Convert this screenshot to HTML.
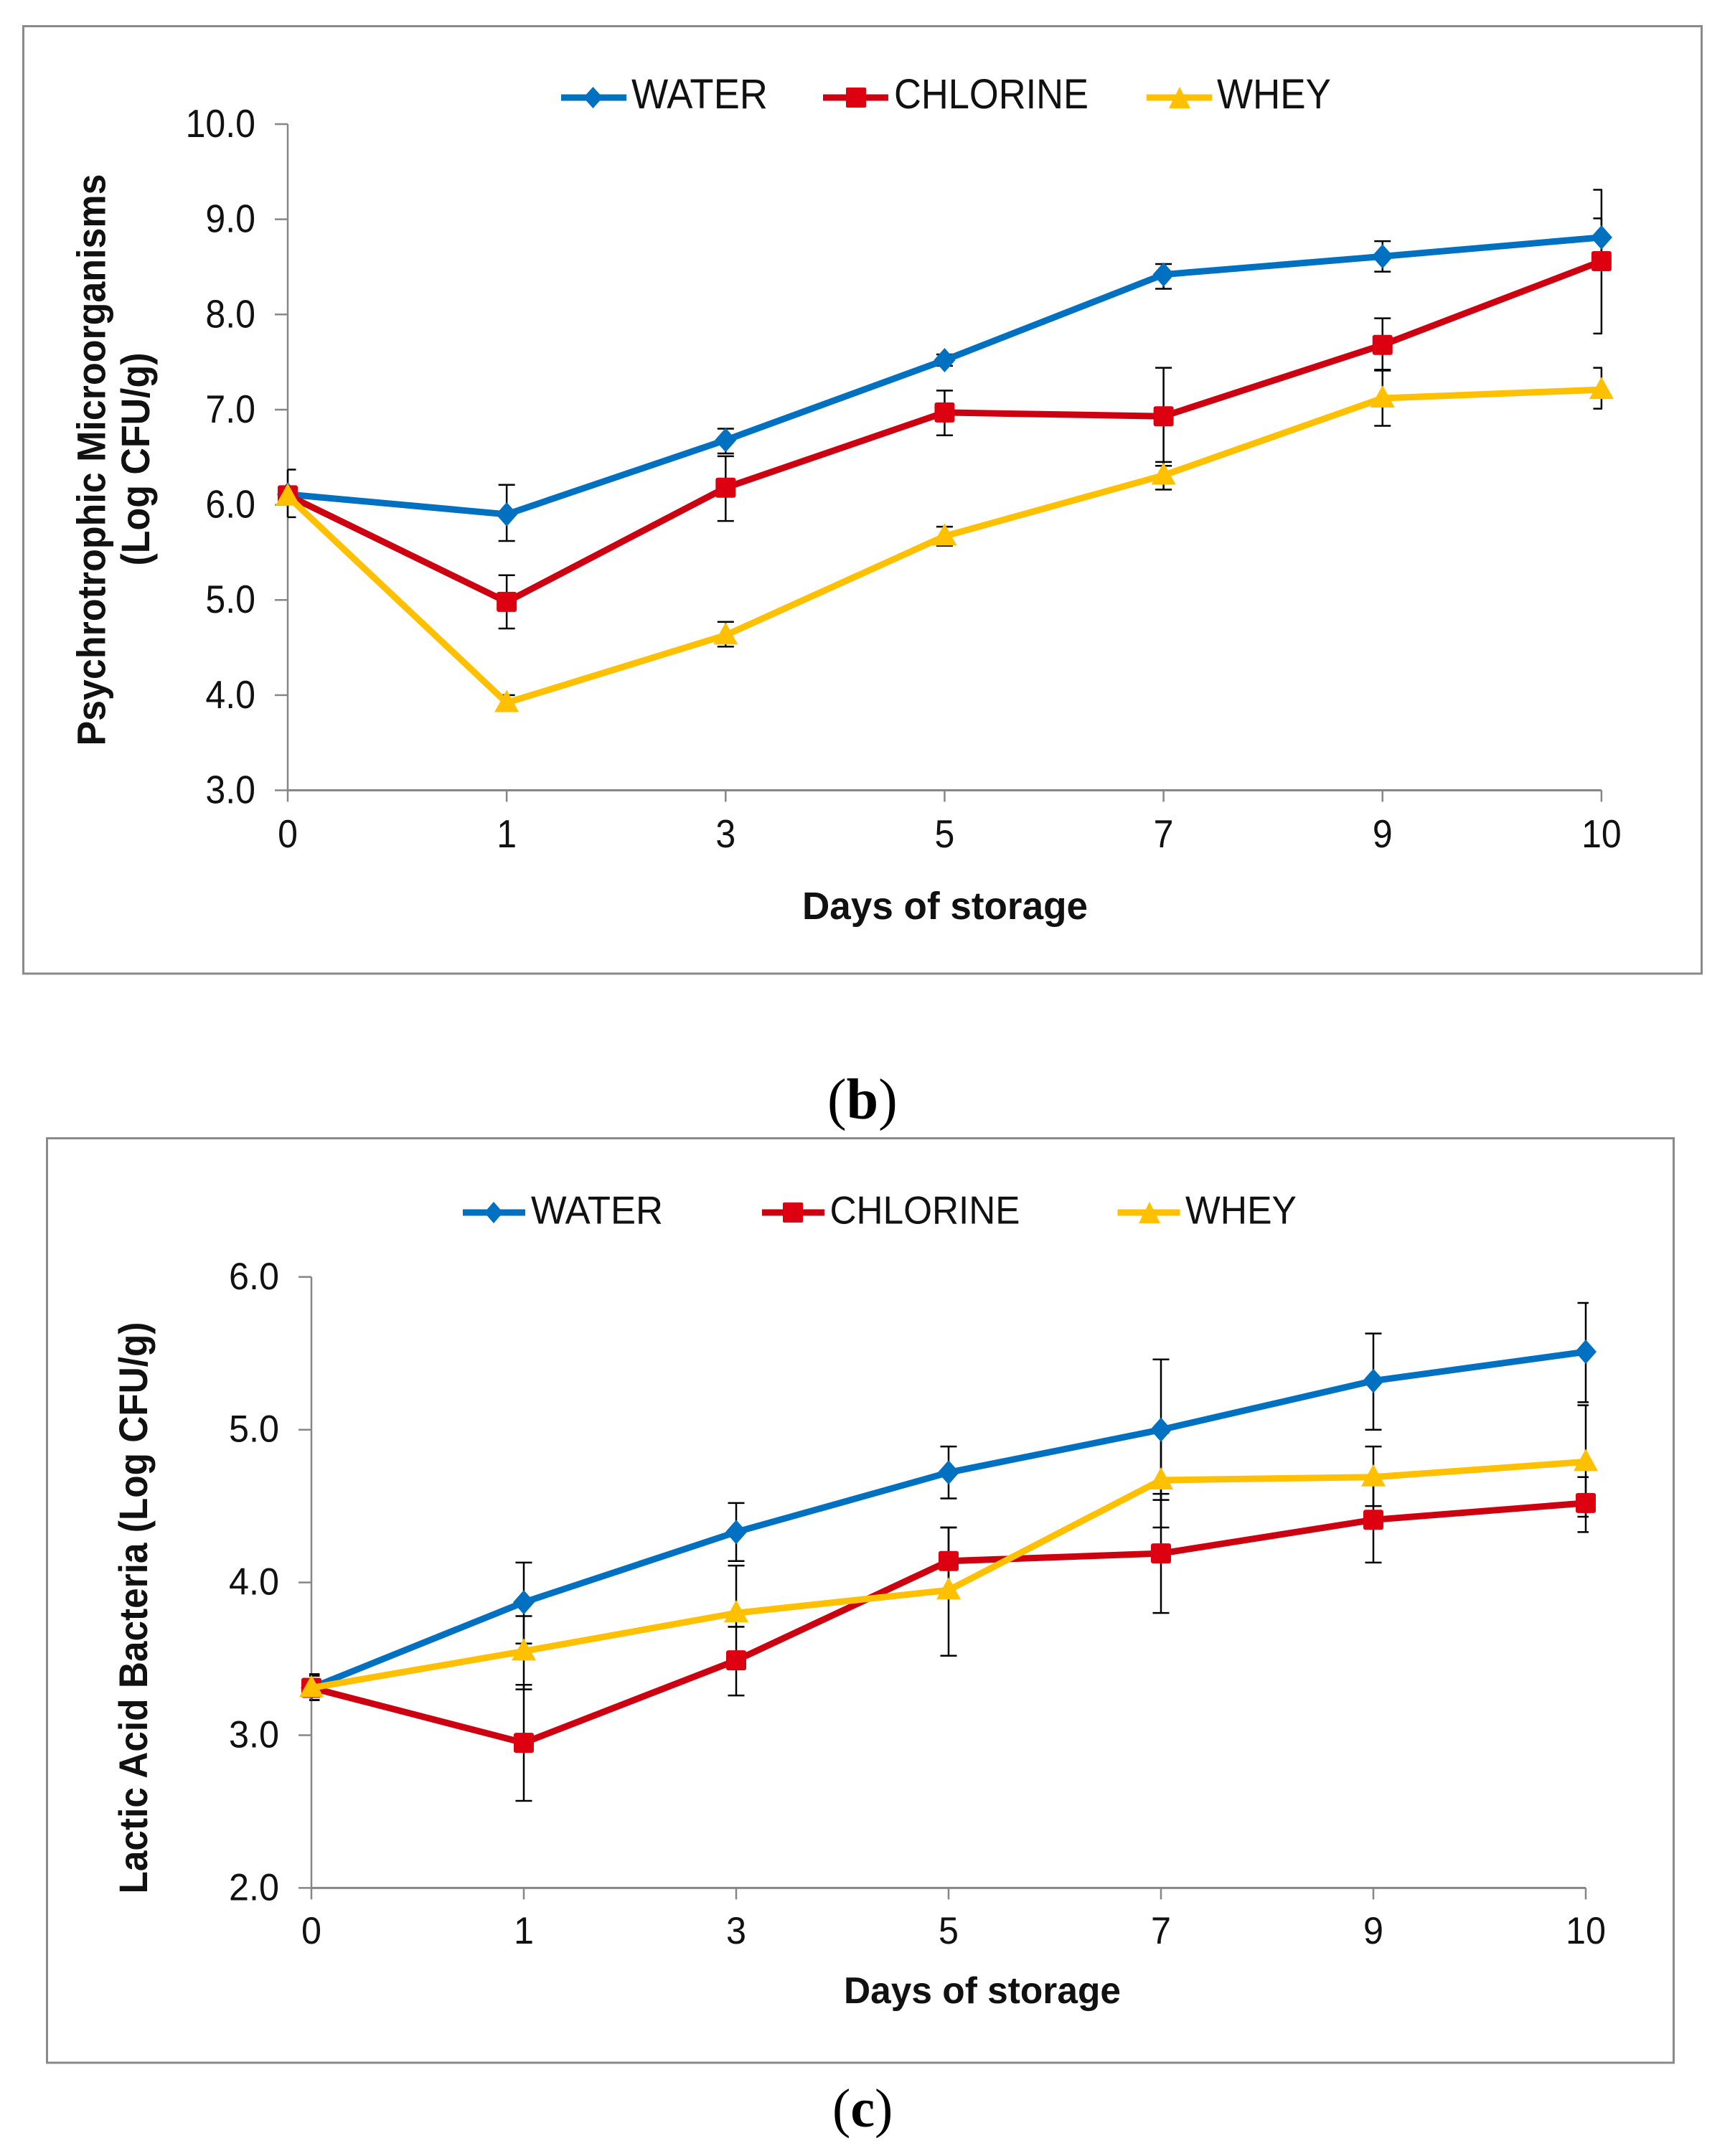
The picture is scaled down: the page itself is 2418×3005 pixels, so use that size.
<!DOCTYPE html>
<html lang="en">
<head>
<meta charset="utf-8">
<title>Psychrotrophic Microorganisms and Lactic Acid Bacteria during storage</title>
<style>
  html, body { margin: 0; padding: 0; background: #fff; }
  svg { display: block; }
  text { font-family: "Liberation Sans", Arial, sans-serif; fill: #111; }
  .cap { font-family: "Liberation Serif", "Times New Roman", serif; font-size: 80px; fill: #000; }
</style>
</head>
<body>
<svg id="figure" xmlns="http://www.w3.org/2000/svg" width="2418" height="3005" viewBox="0 0 2418 3005">
  <rect x="0" y="0" width="2418" height="3005" fill="#fff"/>

  <g id="panel-b">
    <rect x="32.5" y="36.5" width="2339" height="1320.5" fill="#fff" stroke="#8a8a8a" stroke-width="3"/>
    <g>
      <g>
        <line x1="782" y1="136" x2="873" y2="136" stroke="#0070c0" stroke-width="9"/>
        <polygon points="826.5,121 840,136 826.5,151 813,136" fill="#0070c0"/>
        <text x="880" y="151" font-size="58" textLength="190" lengthAdjust="spacingAndGlyphs">WATER</text>
      </g>
      <g>
        <line x1="1147" y1="136" x2="1238" y2="136" stroke="#cc0011" stroke-width="9"/>
        <rect x="1179" y="122" width="28" height="28" rx="2" fill="#dd0011"/>
        <text x="1246" y="151" font-size="58" textLength="271" lengthAdjust="spacingAndGlyphs">CHLORINE</text>
      </g>
      <g>
        <line x1="1598" y1="136" x2="1689" y2="136" stroke="#ffc000" stroke-width="9"/>
        <polygon points="1644,121 1659,151 1629,151" fill="#ffc000"/>
        <text x="1696" y="151" font-size="58" textLength="159" lengthAdjust="spacingAndGlyphs">WHEY</text>
      </g>
    </g>
    <text transform="translate(146.5,641) rotate(-90)" text-anchor="middle" font-size="56" font-weight="bold" textLength="797" lengthAdjust="spacingAndGlyphs">Psychrotrophic Microorganisms</text>
    <text transform="translate(208,640) rotate(-90)" text-anchor="middle" font-size="56" font-weight="bold" textLength="297" lengthAdjust="spacingAndGlyphs">(Log CFU/g)</text>
    <text x="1118" y="1281" font-size="54" font-weight="bold" textLength="398" lengthAdjust="spacingAndGlyphs">Days of storage</text>
  </g>

  <text class="cap" x="1153" y="1559">(<tspan font-weight="bold">b</tspan>)</text>

  <g id="panel-c">
    <rect x="65.5" y="1586.5" width="2267" height="1288.5" fill="#fff" stroke="#8a8a8a" stroke-width="3"/>
    <g>
      <g>
        <line x1="645" y1="1690" x2="732" y2="1690" stroke="#0070c0" stroke-width="9"/>
        <polygon points="688,1675 701,1690 688,1705 675,1690" fill="#0070c0"/>
        <text x="740" y="1705.5" font-size="55" textLength="184" lengthAdjust="spacingAndGlyphs">WATER</text>
      </g>
      <g>
        <line x1="1062" y1="1690" x2="1149" y2="1690" stroke="#cc0011" stroke-width="9"/>
        <rect x="1091" y="1676" width="28" height="28" rx="2" fill="#dd0011"/>
        <text x="1156.5" y="1705.5" font-size="55" textLength="265" lengthAdjust="spacingAndGlyphs">CHLORINE</text>
      </g>
      <g>
        <line x1="1557.5" y1="1690" x2="1644.5" y2="1690" stroke="#ffc000" stroke-width="9"/>
        <polygon points="1602,1675 1617,1705 1587,1705" fill="#ffc000"/>
        <text x="1652" y="1705.5" font-size="55" textLength="155" lengthAdjust="spacingAndGlyphs">WHEY</text>
      </g>
    </g>
    <text transform="translate(205,2241) rotate(-90)" text-anchor="middle" font-size="56" font-weight="bold" textLength="797" lengthAdjust="spacingAndGlyphs">Lactic Acid Bacteria (Log CFU/g)</text>
    <text x="1176" y="2792" font-size="52" font-weight="bold" textLength="386" lengthAdjust="spacingAndGlyphs">Days of storage</text>
  </g>

  <text class="cap" x="1160" y="2964" style="font-size:76px">(<tspan font-weight="bold">c</tspan>)</text>
</svg>

<script>
// Shared categories
const days = ['0', '1', '3', '5', '7', '9', '10'];

// Panel (b) Psychrotrophic Microorganisms
const bTickLabels = ['3.0', '4.0', '5.0', '6.0', '7.0', '8.0', '9.0', '10.0'];
const bWater = [6.11, 5.90, 6.68, 7.52, 8.42, 8.61, 8.81];
const bWaterHigh = [6.37, 6.21, 6.80, 7.58, 8.53, 8.77, 9.01];
const bWaterLow = [5.87, 5.62, 6.54, 7.46, 8.27, 8.45, 8.61];
const bChlorine = [6.10, 4.98, 6.18, 6.97, 6.93, 7.68, 8.56];
const bChlorineHigh = [6.18, 5.26, 6.51, 7.20, 7.44, 7.96, 9.31];
const bChlorineLow = [6.02, 4.70, 5.83, 6.73, 6.41, 7.42, 7.80];
const bWhey = [6.09, 3.92, 4.63, 5.67, 6.31, 7.12, 7.21];
const bWheyHigh = [6.17, 4.00, 4.77, 5.77, 6.45, 7.41, 7.44];
const bWheyLow = [6.01, 3.84, 4.51, 5.57, 6.16, 6.83, 7.01];

// Panel (c) Lactic Acid Bacteria
const cTickLabels = ['2.0', '3.0', '4.0', '5.0', '6.0'];
const cWater = [3.31, 3.87, 4.33, 4.72, 5.00, 5.32, 5.51];
const cWaterHigh = [3.40, 4.13, 4.52, 4.89, 5.46, 5.63, 5.83];
const cWaterLow = [3.23, 3.60, 4.14, 4.55, 4.54, 5.00, 5.18];
const cChlorine = [3.31, 2.95, 3.49, 4.14, 4.19, 4.41, 4.52];
const cChlorineHigh = [3.39, 3.33, 3.71, 4.36, 4.58, 4.69, 4.69];
const cChlorineLow = [3.23, 2.57, 3.26, 3.92, 3.80, 4.13, 4.33];
const cWhey = [3.31, 3.55, 3.80, 3.95, 4.67, 4.69, 4.79];
const cWheyHigh = [3.39, 3.78, 4.11, 4.36, 4.98, 4.89, 5.16];
const cWheyLow = [3.23, 3.30, 3.71, 3.52, 4.36, 4.50, 4.43];

const SVG_NS = 'http://www.w3.org/2000/svg';

function make(tag, parent, attrs) {
  const el = document.createElementNS(SVG_NS, tag);
  for (const k in attrs) el.setAttribute(k, attrs[k]);
  parent.appendChild(el);
  return el;
}

function drawPanel(p) {
  const root = document.getElementById(p.id);
  const x = i => p.x0 + i * p.dx;
  const y = v => p.yBase - (v - p.yMin) * p.yUnit;
  const xEnd = x(days.length - 1);
  const yTop = y(parseFloat(p.ticks[p.ticks.length - 1]));

  // Axes
  const axisY = make('line', root, { x1: p.x0, y1: yTop, x2: p.x0, y2: p.yBase, stroke: '#868686', 'stroke-width': 2.5 });
  
  
  const axisX = make('line', root, { x1: p.x0, y1: p.yBase, x2: xEnd, y2: p.yBase, stroke: '#868686', 'stroke-width': 3 });
  
  

  p.ticks.forEach(label => {
    const v = parseFloat(label);
    const tick = make('line', root, { x1: p.x0 - 18, y1: y(v), x2: p.x0, y2: y(v), stroke: '#868686', 'stroke-width': 2.5 });
    
    
    const t = make('text', root, {
      transform: 'translate(' + (p.x0 - 45) + ',' + (y(v) + p.yLabelDrop) + ') scale(' + p.labelScale + ',1)',
      'text-anchor': 'end', 'font-size': p.labelSize
    });
    t.textContent = label;
    
    
  });

  days.forEach((label, i) => {
    const tick = make('line', root, { x1: x(i), y1: p.yBase, x2: x(i), y2: p.yBase + 16, stroke: '#868686', 'stroke-width': 2.5 });
    
    
    const t = make('text', root, {
      transform: 'translate(' + x(i) + ',' + p.xLabelY + ') scale(' + p.labelScale + ',1)',
      'text-anchor': 'middle', 'font-size': p.labelSize
    });
    t.textContent = label;
    
    
  });

  // Error bars sit behind every series
  p.series.forEach(s => {
    s.high.forEach((hi, i) => {
      const lo = s.low[i];
      const left = Math.max(x(i) - 11.5, p.x0 - p.capLeft);
      const right = Math.min(x(i) + 11.5, xEnd + p.capRight);
      const bar = make('path', root, {
        d: 'M' + x(i) + ' ' + y(hi) + 'V' + y(lo) +
           'M' + left + ' ' + y(hi) + 'H' + right +
           'M' + left + ' ' + y(lo) + 'H' + right,
        stroke: '#000', 'stroke-width': 2.5, fill: 'none'
      });
      
      
    });
  });

  // Lines and markers
  p.series.forEach(s => {
    const pts = s.values.map((v, i) => x(i) + ',' + y(v)).join(' ');
    const line = make('polyline', root, { points: pts, fill: 'none', stroke: s.line, 'stroke-width': 9, 'stroke-linejoin': 'round' });
    
    
    s.values.forEach((v, i) => {
      const cx = x(i), cy = y(v);
      let m;
      if (s.marker === 'diamond') {
        m = make('polygon', root, { points: [cx, cy - 17, cx + 15, cy, cx, cy + 17, cx - 15, cy].join(','), fill: s.fill });
      } else if (s.marker === 'square') {
        m = make('rect', root, { x: cx - 14, y: cy - 14, width: 28, height: 28, rx: 3, fill: s.fill });
      } else {
        m = make('polygon', root, { points: [cx, cy - 18, cx + 17, cy + 13, cx - 17, cy + 13].join(','), fill: s.fill });
      }
      
      
    });
  });
}

drawPanel({
  id: 'panel-b', prefix: 'panel-b', ticks: bTickLabels,
  x0: 401, dx: 305.15, yBase: 1101.5, yMin: 3, yUnit: 132.64,
  xLabelY: 1181, yLabelDrop: 18, labelSize: 55, labelScale: 0.91,
  capLeft: 0, capRight: 1,
  series: [
    { name: 'water', values: bWater, high: bWaterHigh, low: bWaterLow, line: '#0070c0', fill: '#0070c0', marker: 'diamond' },
    { name: 'chlorine', values: bChlorine, high: bChlorineHigh, low: bChlorineLow, line: '#cc0011', fill: '#dd0011', marker: 'square' },
    { name: 'whey', values: bWhey, high: bWheyHigh, low: bWheyLow, line: '#ffc000', fill: '#ffc000', marker: 'triangle' }
  ]
});

drawPanel({
  id: 'panel-c', prefix: 'panel-c', ticks: cTickLabels,
  x0: 434, dx: 296, yBase: 2631.4, yMin: 2, yUnit: 212.9,
  xLabelY: 2709, yLabelDrop: 17, labelSize: 53, labelScale: 0.95,
  capLeft: 3, capRight: 4,
  series: [
    { name: 'water', values: cWater, high: cWaterHigh, low: cWaterLow, line: '#0070c0', fill: '#0070c0', marker: 'diamond' },
    { name: 'chlorine', values: cChlorine, high: cChlorineHigh, low: cChlorineLow, line: '#cc0011', fill: '#dd0011', marker: 'square' },
    { name: 'whey', values: cWhey, high: cWheyHigh, low: cWheyLow, line: '#ffc000', fill: '#ffc000', marker: 'triangle' }
  ]
});
</script>
</body>
</html>
